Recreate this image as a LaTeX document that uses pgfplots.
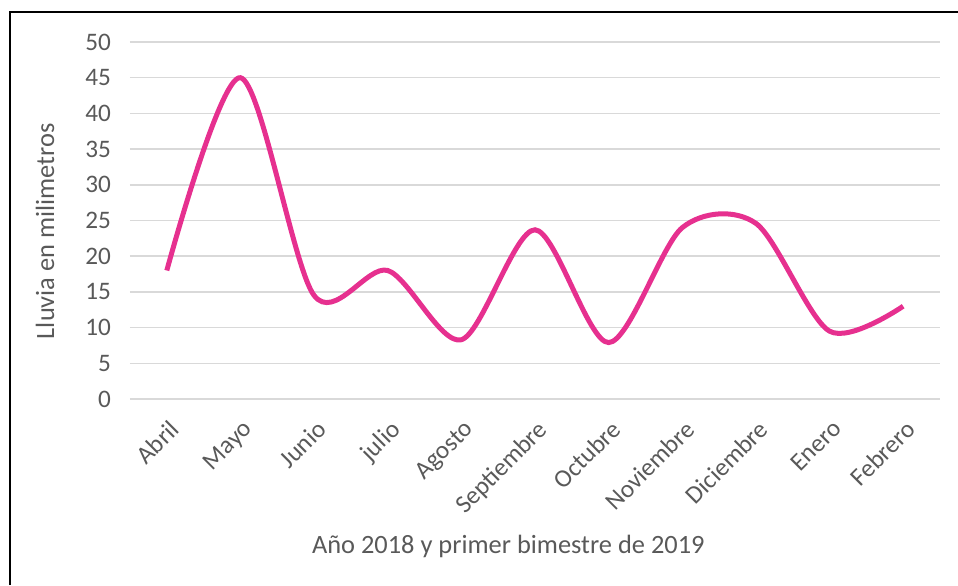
\documentclass[border=0pt]{standalone}
\usepackage{fontspec}
\setmainfont{Carlito}
\usepackage{pgfplots}
\pgfplotsset{compat=1.18}
\definecolor{lineM}{HTML}{E6308F}
\definecolor{txt}{HTML}{595959}
\definecolor{grd}{HTML}{D9D9D9}
\begin{document}
\begin{tikzpicture}
\useasboundingbox (0,0) rectangle (479pt,292.5pt);
\draw[black, line width=1pt] (5pt,0) -- (5pt,286.5pt) -- (479pt,286.5pt);
\begin{axis}[
 at={(65pt,93pt)}, anchor=south west, scale only axis,
 width=405pt, height=178.5pt,
 xmin=-0.5, xmax=10.5, ymin=0, ymax=50,
 ytick={0,5,...,50},
 xtick={0,...,10},
 xticklabels={Abril,Mayo,Junio,julio,Agosto,Septiembre,Octubre,Noviembre,Diciembre,Enero,Febrero},
 axis line style={draw=none},
 major tick length=0pt,
 ymajorgrids, grid style={grd, line width=0.75pt},
 tick label style={font=\fontsize{12.6}{14}\selectfont, text=txt},
 /pgf/number format/assume math mode=true,
 yticklabel style={xshift=-6pt},
 xticklabel style={rotate=45, anchor=north east, xshift=-3pt, yshift=-4pt},
 label style={font=\fontsize{13.2}{15}\selectfont, text=txt},
 xlabel={Año 2018 y primer bimestre de 2019},
 ylabel={Lluvia en milimetros},
 xlabel style={at={(axis description cs:0.467,-0.412)}, anchor=center},
 ylabel style={at={(axis description cs:-0.105,0.47)}, anchor=center},
 clip=false,
]
\addplot[lineM, line width=2.5pt, smooth, tension=0.5] coordinates {
(0,18) (1,45) (2,14.5) (3,18) (4,8.3) (5,23.7) (6,7.9) (7,24) (8,24.6) (9,9.5) (10,13)
};
\end{axis}
\end{tikzpicture}
\end{document}
